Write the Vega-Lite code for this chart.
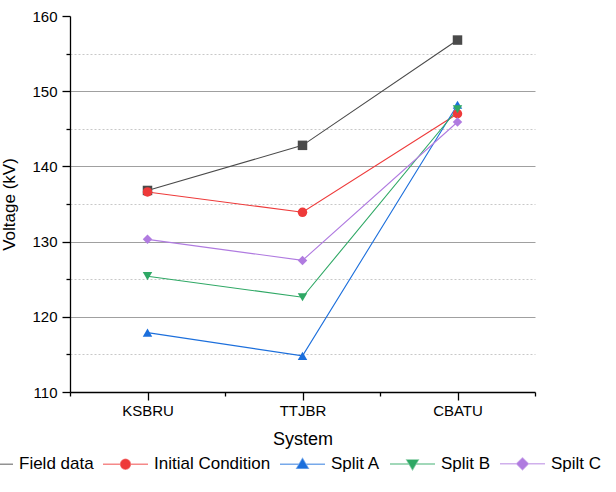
{
  "$schema": "https://vega.github.io/schema/vega-lite/v6.json",
  "width": 465,
  "height": 376,
  "autosize": "none",
  "padding": {"left": 70, "top": 16, "right": 81, "bottom": 100},
  "background": "white",
  "config": {
    "font": "Liberation Sans",
    "view": {"stroke": null},
    "legend": {
      "orient": "none",
      "direction": "horizontal",
      "columns": 5,
      "legendX": -103,
      "legendY": 424,
      "labelFontSize": 17,
      "labelColor": "#000",
      "labelOffset": 5,
      "columnPadding": 6,
      "symbolSize": 2025,
      "symbolStrokeWidth": 1.5
    }
  },
  "data": {
    "values": [
      {"series": "Field data", "system": "KSBRU", "x": 1, "v": 136.8},
      {"series": "Field data", "system": "TTJBR", "x": 2, "v": 142.8},
      {"series": "Field data", "system": "CBATU", "x": 3, "v": 156.8},
      {"series": "Initial Condition", "system": "KSBRU", "x": 1, "v": 136.6},
      {"series": "Initial Condition", "system": "TTJBR", "x": 2, "v": 133.9},
      {"series": "Initial Condition", "system": "CBATU", "x": 3, "v": 147.0},
      {"series": "Split A", "system": "KSBRU", "x": 1, "v": 117.9},
      {"series": "Split A", "system": "TTJBR", "x": 2, "v": 114.8},
      {"series": "Split A", "system": "CBATU", "x": 3, "v": 148.2},
      {"series": "Split B", "system": "KSBRU", "x": 1, "v": 125.4},
      {"series": "Split B", "system": "TTJBR", "x": 2, "v": 122.6},
      {"series": "Split B", "system": "CBATU", "x": 3, "v": 147.6},
      {"series": "Spilt C", "system": "KSBRU", "x": 1, "v": 130.3},
      {"series": "Spilt C", "system": "TTJBR", "x": 2, "v": 127.5},
      {"series": "Spilt C", "system": "CBATU", "x": 3, "v": 145.9}
    ]
  },
  "encoding": {
    "x": {
      "field": "x",
      "type": "quantitative",
      "scale": {"domain": [0.5, 3.5], "nice": false, "zero": false},
      "axis": {
        "title": "System",
        "titleFontSize": 18,
        "titleFontWeight": "normal",
        "titleColor": "#000",
        "titlePadding": 12,
        "values": [0.5, 1, 1.5, 2, 2.5, 3, 3.5],
        "labelExpr": "datum.value === 1 ? 'KSBRU' : datum.value === 2 ? 'TTJBR' : datum.value === 3 ? 'CBATU' : ''",
        "labelFontSize": 15,
        "labelColor": "#000",
        "labelPadding": 3,
        "labelFlush": false,
        "labelOverlap": false,
        "grid": false,
        "domainColor": "#000",
        "domainWidth": 1.3,
        "tickColor": "#000",
        "tickWidth": 1.3,
        "tickSize": {"condition": {"test": "datum.value % 1 !== 0", "value": 4}, "value": 8}
      }
    },
    "y": {
      "field": "v",
      "type": "quantitative",
      "scale": {"domain": [110, 160], "nice": false, "zero": false},
      "axis": {
        "title": "Voltage (kV)",
        "titleFontSize": 17,
        "titleFontWeight": "normal",
        "titleColor": "#000",
        "titlePadding": 13,
        "values": [110, 115, 120, 125, 130, 135, 140, 145, 150, 155, 160],
        "labelExpr": "datum.value % 10 === 0 ? datum.label : ''",
        "labelFontSize": 15,
        "labelColor": "#000",
        "labelPadding": 5,
        "labelFlush": false,
        "labelOverlap": false,
        "grid": true,
        "gridColor": {"condition": {"test": "datum.value % 10 !== 0", "value": "#c8c8c8"}, "value": "#a0a0a0"},
        "gridDash": {"condition": {"test": "datum.value % 10 !== 0", "value": [2, 2]}, "value": []},
        "gridOpacity": {"condition": {"test": "datum.value === 160 || datum.value === 110", "value": 0}, "value": 1},
        "gridWidth": 1,
        "domainColor": "#000",
        "domainWidth": 1.3,
        "tickColor": "#000",
        "tickWidth": 1.3,
        "tickSize": {"condition": {"test": "datum.value % 10 !== 0", "value": 4}, "value": 8}
      }
    },
    "color": {
      "field": "series",
      "type": "nominal",
      "sort": ["Field data", "Initial Condition", "Split A", "Split B", "Spilt C"],
      "scale": {
        "domain": ["Field data", "Initial Condition", "Split A", "Split B", "Spilt C"],
        "range": ["#4a4a4a", "#ee3a3a", "#1c6fdc", "#2fa865", "#b07be0"]
      },
      "legend": {
        "title": null,
        "encode": {
          "symbols": {
            "update": {
              "shape": {"signal": "datum.value === 'Field data' ? 'M-1,0H1M-0.18,-0.18H0.18V0.18H-0.18Z' : datum.value === 'Initial Condition' ? 'M-1,0H1M-0.22,0A0.22,0.22 0 1,0 0.22,0A0.22,0.22 0 1,0 -0.22,0Z' : datum.value === 'Split A' ? 'M-1,0H1M0,-0.25L0.25,0.18L-0.25,0.18Z' : datum.value === 'Split B' ? 'M-1,0H1M0,0.25L0.25,-0.18L-0.25,-0.18Z' : 'M-1,0H1M0,-0.26L0.26,0L0,0.26L-0.26,0Z'"},
              "fill": {"signal": "scale('color', datum.value)"},
              "stroke": {"signal": "scale('color', datum.value)"},
              "strokeWidth": {"value": 1.5},
              "strokeOpacity": {"value": 0.6},
              "fillOpacity": {"value": 1},
              "opacity": {"value": 1}
            }
          }
        }
      }
    }
  },
  "layer": [
    {
      "mark": {"type": "line", "strokeWidth": 1.1},
      "encoding": {
        "detail": {"field": "series"}
      }
    },
    {
      "mark": {"type": "point", "filled": true, "opacity": 1, "size": 90},
      "encoding": {
        "shape": {
          "condition": [
            {"test": "datum.series === 'Field data'", "value": "square"},
            {"test": "datum.series === 'Initial Condition'", "value": "circle"},
            {"test": "datum.series === 'Split A'", "value": "triangle-up"},
            {"test": "datum.series === 'Split B'", "value": "triangle-down"}
          ],
          "value": "diamond"
        }
      }
    }
  ]
}
